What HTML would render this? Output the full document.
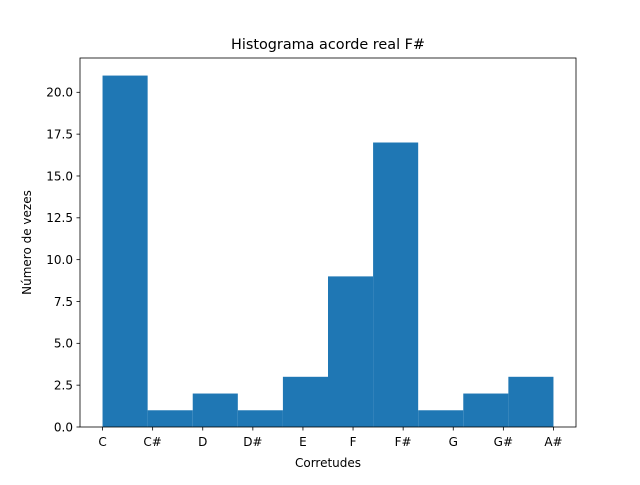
<!DOCTYPE html>
<html><head><meta charset="utf-8"><style>
body{margin:0;background:#fff;}
svg text{font-family:"DejaVu Sans","Liberation Sans",sans-serif;fill:#000;}
</style></head><body>
<svg id="chart" width="640" height="480" xmlns="http://www.w3.org/2000/svg">
<rect width="640" height="480" fill="#fff"/>
<text x="328" y="49" font-size="14.4" text-anchor="middle">Histograma acorde real F#</text>
<g id="bars"></g>
<g id="xticks"></g>
<g id="yticks"></g>
<rect x="80" y="58" width="496" height="369" fill="none" stroke="#000" stroke-width="0.8"/>
<text x="328" y="467" font-size="12" text-anchor="middle">Corretudes</text>
<text transform="translate(31,242.5) rotate(-90)" font-size="12" text-anchor="middle">Número de vezes</text>
</svg>
<script>
const categories=["C","C#","D","D#","E","F","F#","G","G#","A#"];
const counts=[21,1,2,1,3,9,17,1,2,3];
const yTickValues=[0,2.5,5,7.5,10,12.5,15,17.5,20];
const yTickLabels=["0.0","2.5","5.0","7.5","10.0","12.5","15.0","17.5","20.0"];
const NS="http://www.w3.org/2000/svg";
const x0=80,x1=576,yTop=58,yBot=427;
const xmin=-0.45,xmax=categories.length-1+0.45;
const ymax=Math.max(...counts)*1.05;
const xs=v=>x0+(v-xmin)/(xmax-xmin)*(x1-x0);
const ys=v=>yBot-v/ymax*(yBot-yTop);
function mk(t,a){const e=document.createElementNS(NS,t);for(const k in a)e.setAttribute(k,a[k]);return e;}
const bw=(categories.length-1)/counts.length;
const bars=document.getElementById('bars');
counts.forEach((c,i)=>{
 const l=xs(i*bw),r=xs((i+1)*bw);
 const e=mk('rect',{x:l,y:ys(c),width:r-l,height:yBot-ys(c),fill:'#1f77b4'});
 
 
 bars.appendChild(e);
});
const xt=document.getElementById('xticks');
categories.forEach((c,i)=>{
 const x=xs(i);
 xt.appendChild(mk('line',{x1:x,x2:x,y1:yBot,y2:yBot+3.5,stroke:'#000','stroke-width':0.8}));
 const t=mk('text',{x:x,y:yBot+19,'font-size':12,'text-anchor':'middle'});
 t.textContent=c;
 
 
 xt.appendChild(t);
});
const yt=document.getElementById('yticks');
yTickValues.forEach((v,i)=>{
 const y=ys(v);
 yt.appendChild(mk('line',{x1:x0-3.5,x2:x0,y1:y,y2:y,stroke:'#000','stroke-width':0.8}));
 const t=mk('text',{x:x0-7,y:y+4.3,'font-size':12,'text-anchor':'end'});
 t.textContent=yTickLabels[i];
 
 
 yt.appendChild(t);
});
</script>
</body></html>
